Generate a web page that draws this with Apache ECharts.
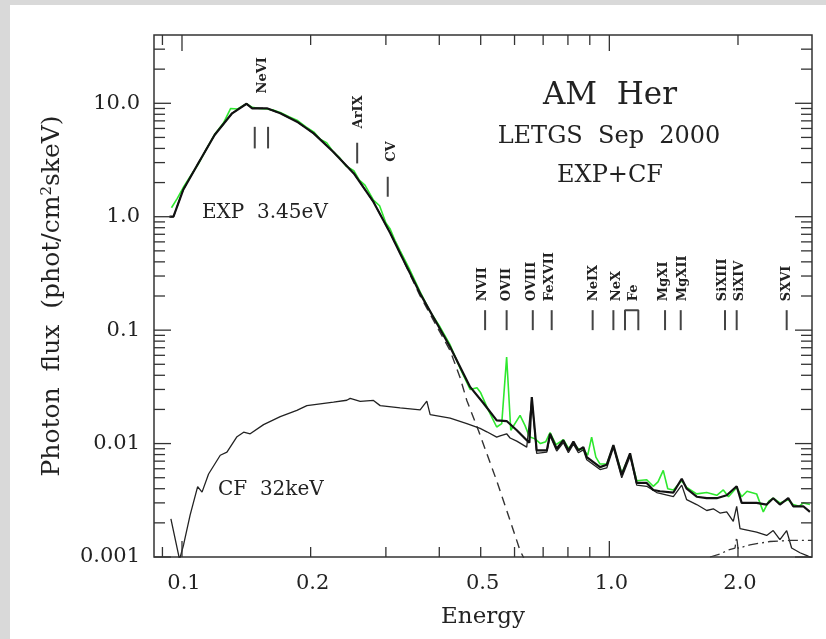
<!DOCTYPE html>
<html>
<head>
<meta charset="utf-8">
<script src="https://cdn.jsdelivr.net/npm/echarts@6/dist/echarts.min.js"></script>
<style>
html,body{margin:0;padding:0;background:#fff;}
#c{width:826px;height:639px;}
</style>
</head>
<body>
<div id="c"></div>
<script>
// ---------------- data ----------------
// total model EXP+CF (thick black)
const totalE = [0.0935,0.0955,0.1006,0.1091,0.1192,0.1310,0.1416,0.1460,0.1580,0.1698,0.1858,0.2033,0.2258,0.2524,0.2806,0.3070,0.3240,0.3608,0.4241,0.4723,0.5070,0.5450,0.5750,0.6073,0.6408,0.6500,0.6585,0.6760,0.7140,0.7266,0.7530,0.7806,0.8020,0.8240,0.8463,0.8694,0.8854,0.9512,0.9860,1.0220,1.0690,1.1180,1.1590,1.2230,1.2670,1.3140,1.4120,1.4770,1.5170,1.6010,1.6900,1.7840,1.8820,1.9860,2.0400,2.2110,2.3340,2.4180,2.5070,2.6220,2.6930,2.8430,2.9470];
const totalF = [1.00,1.00,1.72,2.95,5.25,8.16,9.90,9.03,9.03,8.16,6.88,5.43,3.74,2.41,1.35,0.717,0.474,0.210,0.0711,0.0316,0.0228,0.0160,0.0158,0.0131,0.0107,0.0102,0.0257,0.0087,0.0087,0.0122,0.0090,0.0107,0.0087,0.0104,0.0087,0.0093,0.0076,0.0062,0.0065,0.0097,0.0053,0.0082,0.0045,0.0045,0.0039,0.0038,0.0037,0.0049,0.0040,0.0034,0.0033,0.0033,0.0035,0.0042,0.0030,0.0030,0.0029,0.0033,0.0029,0.0033,0.0028,0.0028,0.0025];

// observed LETGS spectrum (green)
const dataE = [0.0945,0.0975,0.1006,0.1040,0.1091,0.1140,0.1192,0.1250,0.1300,0.1350,0.1416,0.1460,0.1520,0.1580,0.1640,0.1698,0.1780,0.1858,0.1950,0.2033,0.2110,0.2180,0.2258,0.2340,0.2420,0.2524,0.2600,0.2680,0.2806,0.2900,0.3000,0.3070,0.3150,0.3240,0.3400,0.3608,0.3800,0.4020,0.4241,0.4476,0.4723,0.4900,0.5000,0.5200,0.5450,0.5600,0.5750,0.5880,0.6182,0.6350,0.6500,0.6700,0.6900,0.7100,0.7266,0.7500,0.7806,0.8020,0.8240,0.8463,0.8700,0.8900,0.9090,0.9300,0.9512,0.9860,1.0220,1.0690,1.1180,1.1590,1.2230,1.2670,1.3000,1.3370,1.3700,1.4120,1.4770,1.5170,1.6010,1.6900,1.7840,1.8480,1.9000,1.9860,2.0400,2.1000,2.2110,2.2920,2.3600,2.4180,2.5070,2.6220,2.6930,2.7800,2.8430,2.9470];
const dataF = [1.20,1.45,1.80,2.20,2.90,3.95,5.30,6.70,9.00,8.90,9.90,9.20,9.00,8.90,8.70,8.30,7.60,7.10,6.20,5.60,4.80,4.50,3.75,3.30,2.80,2.55,2.10,1.90,1.40,1.25,0.88,0.78,0.62,0.50,0.35,0.218,0.148,0.106,0.074,0.046,0.030,0.031,0.028,0.020,0.0140,0.0150,0.058,0.0131,0.0177,0.0144,0.0115,0.0110,0.0100,0.0104,0.0125,0.0098,0.0108,0.0091,0.0100,0.0090,0.0088,0.0079,0.0114,0.0076,0.0066,0.0066,0.0095,0.0055,0.0080,0.0047,0.0048,0.0042,0.0046,0.0058,0.0040,0.0039,0.0047,0.0041,0.0036,0.0037,0.0035,0.0039,0.0034,0.0041,0.0034,0.0038,0.0036,0.0025,0.0031,0.0033,0.0030,0.0032,0.0029,0.0028,0.0030,0.0029];

// EXP 3.45eV component (dashed)
const expE = [0.0935,0.0955,0.1006,0.1091,0.1192,0.1310,0.1416,0.1460,0.1580,0.1698,0.1858,0.2033,0.2258,0.2524,0.2806,0.3070,0.3240,0.3608,0.4241,0.4476,0.4640,0.4937,0.5450,0.5858,0.6182,0.6290,0.6400];
const expF = [1.00,1.00,1.72,2.95,5.25,8.16,9.90,9.03,9.03,8.16,6.88,5.43,3.74,2.41,1.35,0.717,0.474,0.200,0.066,0.038,0.024,0.0131,0.0047,0.0021,0.00114,0.00100,0.00080];

// CF 32keV component (thin black)
const cfE = [0.0942,0.0987,0.1009,0.1045,0.1088,0.1114,0.1154,0.1229,0.1274,0.1345,0.1394,0.1444,0.1552,0.1698,0.1857,0.1960,0.2106,0.2262,0.2430,0.2475,0.2612,0.2806,0.2909,0.3240,0.3419,0.3608,0.3740,0.3808,0.4241,0.4640,0.4984,0.5168,0.5450,0.5551,0.5750,0.5858,0.6073,0.6408,0.6585,0.6760,0.7140,0.7266,0.7530,0.7806,0.8020,0.8240,0.8463,0.8694,0.8854,0.9512,0.9860,1.0220,1.0690,1.1180,1.1590,1.2230,1.2910,1.4120,1.4770,1.5170,1.6010,1.6900,1.7510,1.8150,1.8820,1.9500,1.9860,2.0220,2.2110,2.3340,2.4180,2.5070,2.6000,2.6700,2.7930,2.9000,2.9800];
const cfF = [0.00217,0.00095,0.00129,0.00235,0.00417,0.00373,0.00539,0.00789,0.0084,0.0115,0.0126,0.0122,0.0147,0.0173,0.0196,0.0216,0.0224,0.0232,0.0241,0.0250,0.0236,0.0240,0.0216,0.0206,0.0202,0.0198,0.0237,0.0180,0.0168,0.0150,0.0136,0.0127,0.0114,0.0117,0.0122,0.0112,0.0105,0.0093,0.0250,0.0082,0.0084,0.0117,0.0086,0.0102,0.0083,0.0099,0.0083,0.0088,0.0072,0.0059,0.0061,0.0092,0.0050,0.0077,0.0043,0.0042,0.0037,0.0034,0.0043,0.0032,0.0029,0.00257,0.00266,0.00244,0.00250,0.00206,0.0028,0.00178,0.00166,0.00155,0.00171,0.00142,0.00171,0.00120,0.00109,0.00103,0.00098];

// faint high-energy component (dash-dot)
const ddE = [1.720,1.815,1.895,1.968,1.986,2.000,2.133,2.376,2.646,2.980];
const ddF = [0.00100,0.00106,0.00115,0.00120,0.00150,0.00119,0.00128,0.00137,0.00140,0.00140];

// line identification marks
const markerE  = [0.148,0.159,0.257,0.303,0.512,0.575,0.662,0.733,0.914,1.022,1.35,1.469,1.865,1.986,2.60];
const markerLo = [4.0,4.0,2.95,1.5,0.1,0.1,0.1,0.1,0.1,0.1,0.1,0.1,0.1,0.1,0.1];
const markerHi = [6.2,6.2,4.49,2.25,0.15,0.15,0.15,0.15,0.15,0.15,0.15,0.15,0.15,0.15,0.15];
const feBracketE = [1.088,1.088,1.169,1.169];
const feBracketF = [0.1,0.15,0.15,0.1];
const ionNames  = ['NeVI','ArIX','CV','NVII','OVII','OVIII','FeXVII','NeIX','NeX','Fe','MgXI','MgXII','SiXIII','SiXIV','SXVI'];
const ionLabelE = [0.154,0.259,0.310,0.506,0.575,0.658,0.723,0.920,1.040,1.142,1.342,1.487,1.840,2.015,2.600];
const ionLabelF = [12.2,6.0,3.05,0.18,0.18,0.18,0.18,0.18,0.18,0.18,0.18,0.18,0.18,0.18,0.18];

// axes
const xTickValues = [0.09,0.1,0.2,0.3,0.4,0.5,0.6,0.7,0.8,0.9,1,2];
const xLabelValues = [0.1,0.2,0.5,1,2];
const xLabelTexts = ['0.1','0.2','0.5','1.0','2.0'];
const yTickValues = [0.001,0.002,0.003,0.004,0.005,0.006,0.007,0.008,0.009,0.01,0.02,0.03,0.04,0.05,0.06,0.07,0.08,0.09,0.1,0.2,0.3,0.4,0.5,0.6,0.7,0.8,0.9,1,2,3,4,5,6,7,8,9,10,20,30];
const yLabelValues = [0.001,0.01,0.1,1,10];
const yLabelTexts = ['0.001','0.01','0.1','1.0','10.0'];

// ---------------- chart ----------------
const X_MIN = 0.086, X_MAX = 2.98, Y_MIN = 0.001, Y_MAX = 40;
const FONT = '"DejaVu Serif", "Liberation Serif", serif';
const INK = '#222';
const pairs = (xs, ys) => xs.map((x, i) => [x, ys[i]]);
const isMajor = v => { const l = Math.log10(v); return Math.abs(l - Math.round(l)) < 1e-6; };

const chart = echarts.init(document.getElementById('c'));

const lineSeries = (name, xs, ys, color, width, type, z) => ({
  type: 'line', name, data: pairs(xs, ys), showSymbol: false, symbol: 'none',
  silent: true, clip: true, z,
  lineStyle: { color, width, type }
});

const option = {
  animation: false,
  backgroundColor: '#ffffff',
  grid: { left: 154, right: 14, top: 35, bottom: 82, show: true, borderColor: '#333', borderWidth: 1.5, backgroundColor: 'transparent' },
  xAxis: {
    type: 'log', logBase: 10, min: X_MIN, max: X_MAX,
    axisLine: { show: false }, axisTick: { show: false }, axisLabel: { show: false }, splitLine: { show: false },
    name: 'Energy', nameLocation: 'middle', nameGap: 49,
    nameTextStyle: { fontFamily: FONT, fontSize: 23, color: INK }
  },
  yAxis: {
    type: 'log', logBase: 10, min: Y_MIN, max: Y_MAX,
    axisLine: { show: false }, axisTick: { show: false }, splitLine: { show: false },
    axisLabel: {
      margin: 14, fontFamily: FONT, fontSize: 21, color: INK,
      formatter: v => {
        const i = yLabelValues.findIndex(t => Math.abs(Math.log10(t) - Math.log10(v)) < 1e-6);
        return i >= 0 ? yLabelTexts[i] : '';
      }
    },
    name: 'Photon  flux  (phot/cm{sup|2}skeV)', nameLocation: 'middle', nameGap: 89, nameRotate: 90,
    nameTextStyle: {
      fontFamily: FONT, fontSize: 25, color: INK,
      rich: { sup: { fontFamily: FONT, fontSize: 15, color: INK, padding: [0, 0, 10, 0] } }
    }
  },
  graphic: [
    { type: 'rect', silent: true, shape: { x: 0, y: 0, width: 826, height: 5 }, style: { fill: '#d9d9d9' } },
    { type: 'rect', silent: true, shape: { x: 0, y: 0, width: 10, height: 639 }, style: { fill: '#d9d9d9' } },
    { type: 'text', x: 610, y: 96, style: { text: 'AM  Her', font: '31px ' + FONT, fill: INK, textAlign: 'center', textVerticalAlign: 'middle' } },
    { type: 'text', x: 609, y: 137, style: { text: 'LETGS  Sep  2000', font: '24px ' + FONT, fill: INK, textAlign: 'center', textVerticalAlign: 'middle' } },
    { type: 'text', x: 610, y: 176, style: { text: 'EXP+CF', font: '24px ' + FONT, fill: INK, textAlign: 'center', textVerticalAlign: 'middle' } },
    { type: 'text', x: 202, y: 213, style: { text: 'EXP  3.45eV', font: '20px ' + FONT, fill: INK, textAlign: 'left', textVerticalAlign: 'middle' } },
    { type: 'text', x: 218, y: 490, style: { text: 'CF  32keV', font: '20px ' + FONT, fill: INK, textAlign: 'left', textVerticalAlign: 'middle' } }
  ],
  series: [
    lineSeries('data', dataE, dataF, '#2ee82e', 1.6, 'solid', 2),
    lineSeries('EXP', expE, expF, '#333', 1.4, [9, 6], 3),
    lineSeries('CF', cfE, cfF, '#222', 1.3, 'solid', 3),
    lineSeries('extra', ddE, ddF, '#333', 1.3, [10, 4, 2, 4], 3),
    lineSeries('EXP+CF', totalE, totalF, '#111', 2.2, 'solid', 4),
    lineSeries('Fe', feBracketE, feBracketF, '#444', 2, 'solid', 5),
    {
      type: 'custom', name: 'markers', silent: true, clip: false, z: 5,
      data: markerE.map((e, i) => [e, markerLo[i], markerHi[i]]),
      encode: { x: 0, y: [1, 2] },
      renderItem: (params, api) => {
        const a = api.coord([api.value(0), api.value(1)]);
        const b = api.coord([api.value(0), api.value(2)]);
        return { type: 'line', shape: { x1: a[0], y1: a[1], x2: b[0], y2: b[1] }, style: { stroke: '#444', lineWidth: 2 } };
      }
    },
    {
      type: 'custom', name: 'ionLabels', silent: true, clip: false, z: 5,
      data: ionLabelE.map((e, i) => [e, ionLabelF[i]]),
      renderItem: (params, api) => {
        const p = api.coord([api.value(0), api.value(1)]);
        return {
          type: 'text', x: p[0], y: p[1], rotation: Math.PI / 2,
          style: { text: ionNames[params.dataIndex], x: 0, y: 0, font: 'bold 13px ' + FONT, fill: INK, textAlign: 'left', textVerticalAlign: 'middle' }
        };
      }
    },
    {
      type: 'custom', name: 'xTicks', silent: true, clip: false, z: 6,
      data: xTickValues.map(v => [v, Y_MIN]),
      renderItem: (params, api) => {
        const cs = params.coordSys;
        const v = api.value(0);
        const x = api.coord([v, Y_MIN])[0];
        const L = isMajor(v) ? 16 : 10;
        return { type: 'group', children: [
          { type: 'line', shape: { x1: x, y1: cs.y + cs.height, x2: x, y2: cs.y + cs.height - L }, style: { stroke: '#333', lineWidth: 1.3 } },
          { type: 'line', shape: { x1: x, y1: cs.y, x2: x, y2: cs.y + L }, style: { stroke: '#333', lineWidth: 1.3 } }
        ] };
      }
    },
    {
      type: 'custom', name: 'yTicks', silent: true, clip: false, z: 6,
      data: yTickValues.map(v => [1, v]),
      renderItem: (params, api) => {
        const cs = params.coordSys;
        const v = api.value(1);
        const y = api.coord([1, v])[1];
        const L = isMajor(v) ? 17 : 11;
        return { type: 'group', children: [
          { type: 'line', shape: { x1: cs.x, y1: y, x2: cs.x + L, y2: y }, style: { stroke: '#333', lineWidth: 1.3 } },
          { type: 'line', shape: { x1: cs.x + cs.width, y1: y, x2: cs.x + cs.width - L, y2: y }, style: { stroke: '#333', lineWidth: 1.3 } }
        ] };
      }
    },
    {
      type: 'custom', name: 'xLabels', silent: true, clip: false, z: 6,
      data: xLabelValues.map(v => [v, Y_MIN]),
      renderItem: (params, api) => {
        const p = api.coord([api.value(0), Y_MIN]);
        return {
          type: 'text', x: p[0] + 2, y: p[1] + 27,
          style: { text: xLabelTexts[params.dataIndex], x: 0, y: 0, font: '21px ' + FONT, fill: INK, textAlign: 'center', textVerticalAlign: 'middle' }
        };
      }
    }
  ]
};
chart.setOption(option);
</script>
</body>
</html>
